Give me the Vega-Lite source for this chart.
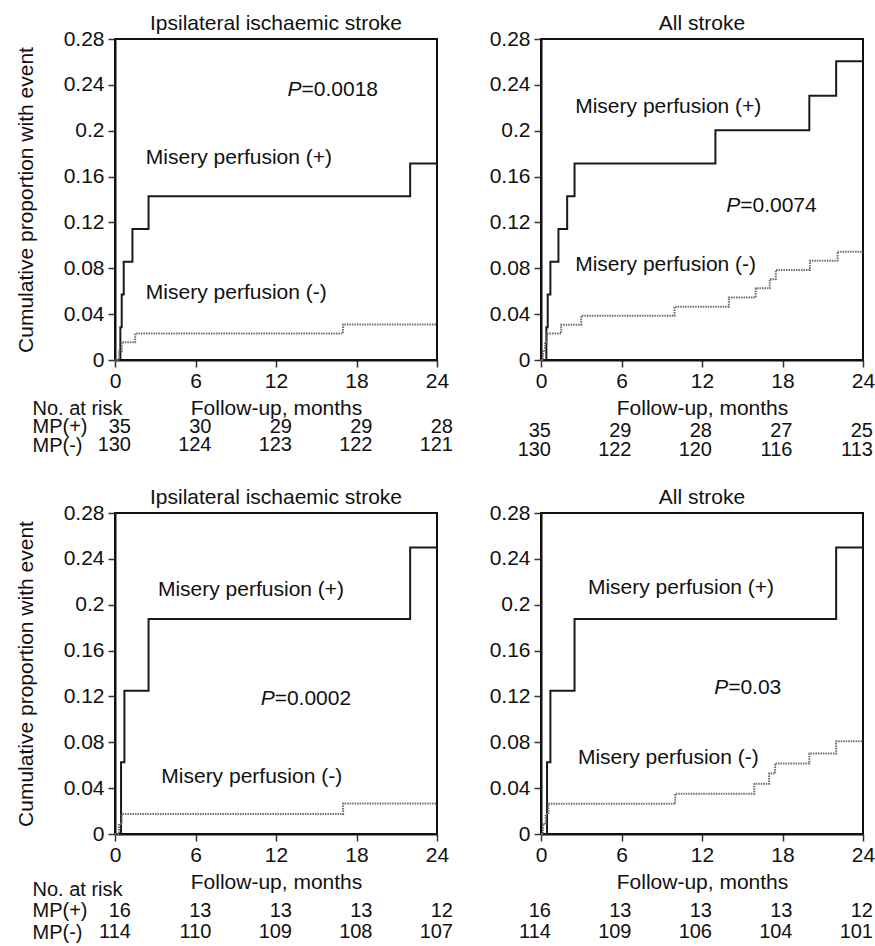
{
  "$schema": "https://vega.github.io/schema/vega-lite/v6.json",
  "background": "white",
  "padding": {"left": 14, "top": 12, "right": 0, "bottom": 0},
  "config": {
    "font": "Liberation Sans",
    "view": {"stroke": "#111", "strokeWidth": 2},
    "axis": {"grid": false, "labelFontSize": 21, "titleFontSize": 21, "labelColor": "#111", "titleColor": "#111", "titleFontWeight": "normal", "domainColor": "#111", "domainWidth": 2, "tickColor": "#333", "tickWidth": 1.5, "tickSize": 7, "labelFont": "Liberation Sans", "titleFont": "Liberation Sans"},
    "title": {"fontSize": 21, "fontWeight": "normal", "color": "#111", "font": "Liberation Sans", "baseline": "alphabetic", "offset": -6},
    "text": {"fontSize": 21, "font": "Liberation Sans", "color": "#111"}
  },
  "datasets": {
    "curves": [
      {"panel": "A", "group": "MP(+)", "t": 0, "p": 0}, {"panel": "A", "group": "MP(+)", "t": 0.4, "p": 0.0286}, {"panel": "A", "group": "MP(+)", "t": 0.5, "p": 0.0571}, {"panel": "A", "group": "MP(+)", "t": 0.65, "p": 0.0857}, {"panel": "A", "group": "MP(+)", "t": 1.3, "p": 0.1143}, {"panel": "A", "group": "MP(+)", "t": 2.5, "p": 0.1429}, {"panel": "A", "group": "MP(+)", "t": 22, "p": 0.1714}, {"panel": "A", "group": "MP(+)", "t": 24, "p": 0.1714},
      {"panel": "A", "group": "MP(-)", "t": 0, "p": 0}, {"panel": "A", "group": "MP(-)", "t": 0.3, "p": 0.0077}, {"panel": "A", "group": "MP(-)", "t": 0.5, "p": 0.0154}, {"panel": "A", "group": "MP(-)", "t": 1.5, "p": 0.0232}, {"panel": "A", "group": "MP(-)", "t": 17, "p": 0.031}, {"panel": "A", "group": "MP(-)", "t": 24, "p": 0.031},
      {"panel": "B", "group": "MP(+)", "t": 0, "p": 0}, {"panel": "B", "group": "MP(+)", "t": 0.4, "p": 0.0286}, {"panel": "B", "group": "MP(+)", "t": 0.5, "p": 0.0571}, {"panel": "B", "group": "MP(+)", "t": 0.7, "p": 0.0857}, {"panel": "B", "group": "MP(+)", "t": 1.3, "p": 0.1143}, {"panel": "B", "group": "MP(+)", "t": 1.95, "p": 0.1429}, {"panel": "B", "group": "MP(+)", "t": 2.5, "p": 0.1714}, {"panel": "B", "group": "MP(+)", "t": 13, "p": 0.2005}, {"panel": "B", "group": "MP(+)", "t": 20, "p": 0.2305}, {"panel": "B", "group": "MP(+)", "t": 22, "p": 0.2605}, {"panel": "B", "group": "MP(+)", "t": 24, "p": 0.2605},
      {"panel": "B", "group": "MP(-)", "t": 0, "p": 0}, {"panel": "B", "group": "MP(-)", "t": 0.15, "p": 0.0077}, {"panel": "B", "group": "MP(-)", "t": 0.3, "p": 0.0154}, {"panel": "B", "group": "MP(-)", "t": 0.45, "p": 0.0231}, {"panel": "B", "group": "MP(-)", "t": 1.5, "p": 0.0308}, {"panel": "B", "group": "MP(-)", "t": 3, "p": 0.0385}, {"panel": "B", "group": "MP(-)", "t": 9.95, "p": 0.0465}, {"panel": "B", "group": "MP(-)", "t": 14, "p": 0.0545}, {"panel": "B", "group": "MP(-)", "t": 16, "p": 0.0625}, {"panel": "B", "group": "MP(-)", "t": 17.05, "p": 0.0705}, {"panel": "B", "group": "MP(-)", "t": 17.5, "p": 0.0785}, {"panel": "B", "group": "MP(-)", "t": 20.05, "p": 0.0865}, {"panel": "B", "group": "MP(-)", "t": 22.1, "p": 0.0945}, {"panel": "B", "group": "MP(-)", "t": 24, "p": 0.0945},
      {"panel": "C", "group": "MP(+)", "t": 0, "p": 0}, {"panel": "C", "group": "MP(+)", "t": 0.45, "p": 0.0625}, {"panel": "C", "group": "MP(+)", "t": 0.7, "p": 0.125}, {"panel": "C", "group": "MP(+)", "t": 2.5, "p": 0.1875}, {"panel": "C", "group": "MP(+)", "t": 22, "p": 0.25}, {"panel": "C", "group": "MP(+)", "t": 24, "p": 0.25},
      {"panel": "C", "group": "MP(-)", "t": 0, "p": 0}, {"panel": "C", "group": "MP(-)", "t": 0.3, "p": 0.0088}, {"panel": "C", "group": "MP(-)", "t": 0.5, "p": 0.0175}, {"panel": "C", "group": "MP(-)", "t": 17, "p": 0.0265}, {"panel": "C", "group": "MP(-)", "t": 24, "p": 0.0265},
      {"panel": "D", "group": "MP(+)", "t": 0, "p": 0}, {"panel": "D", "group": "MP(+)", "t": 0.45, "p": 0.0625}, {"panel": "D", "group": "MP(+)", "t": 0.7, "p": 0.125}, {"panel": "D", "group": "MP(+)", "t": 2.5, "p": 0.1875}, {"panel": "D", "group": "MP(+)", "t": 22, "p": 0.25}, {"panel": "D", "group": "MP(+)", "t": 24, "p": 0.25},
      {"panel": "D", "group": "MP(-)", "t": 0, "p": 0}, {"panel": "D", "group": "MP(-)", "t": 0.15, "p": 0.0088}, {"panel": "D", "group": "MP(-)", "t": 0.35, "p": 0.0175}, {"panel": "D", "group": "MP(-)", "t": 0.55, "p": 0.0263}, {"panel": "D", "group": "MP(-)", "t": 10, "p": 0.0351}, {"panel": "D", "group": "MP(-)", "t": 15.9, "p": 0.0439}, {"panel": "D", "group": "MP(-)", "t": 17, "p": 0.0527}, {"panel": "D", "group": "MP(-)", "t": 17.45, "p": 0.0615}, {"panel": "D", "group": "MP(-)", "t": 20, "p": 0.0703}, {"panel": "D", "group": "MP(-)", "t": 22, "p": 0.081}, {"panel": "D", "group": "MP(-)", "t": 24, "p": 0.081}
    ],
    "notes": [
      {"panel": "A", "label": "Misery perfusion (+)", "t": 2.3, "p": 0.176}, {"panel": "A", "label": "Misery perfusion (-)", "t": 2.3, "p": 0.0587},
      {"panel": "B", "label": "Misery perfusion (+)", "t": 2.55, "p": 0.2205}, {"panel": "B", "label": "Misery perfusion (-)", "t": 2.55, "p": 0.083},
      {"panel": "C", "label": "Misery perfusion (+)", "t": 3.2, "p": 0.2124}, {"panel": "C", "label": "Misery perfusion (-)", "t": 3.45, "p": 0.0497},
      {"panel": "D", "label": "Misery perfusion (+)", "t": 3.5, "p": 0.215}, {"panel": "D", "label": "Misery perfusion (-)", "t": 2.75, "p": 0.0667}
    ],
    "pvals": [
      {"panel": "A", "value": "=0.0018", "t": 13.9, "p": 0.2356},
      {"panel": "B", "value": "=0.0074", "t": 14.85, "p": 0.1347},
      {"panel": "C", "value": "=0.0002", "t": 11.9, "p": 0.1174},
      {"panel": "D", "value": "=0.03", "t": 13.95, "p": 0.1275}
    ],
    "risk": [
      {"panel": "A", "row": "MP(+)", "t": 0, "n": 35}, {"panel": "A", "row": "MP(+)", "t": 6, "n": 30}, {"panel": "A", "row": "MP(+)", "t": 12, "n": 29}, {"panel": "A", "row": "MP(+)", "t": 18, "n": 29}, {"panel": "A", "row": "MP(+)", "t": 24, "n": 28},
      {"panel": "A", "row": "MP(-)", "t": 0, "n": 130}, {"panel": "A", "row": "MP(-)", "t": 6, "n": 124}, {"panel": "A", "row": "MP(-)", "t": 12, "n": 123}, {"panel": "A", "row": "MP(-)", "t": 18, "n": 122}, {"panel": "A", "row": "MP(-)", "t": 24, "n": 121},
      {"panel": "B", "row": "MP(+)", "t": 0, "n": 35}, {"panel": "B", "row": "MP(+)", "t": 6, "n": 29}, {"panel": "B", "row": "MP(+)", "t": 12, "n": 28}, {"panel": "B", "row": "MP(+)", "t": 18, "n": 27}, {"panel": "B", "row": "MP(+)", "t": 24, "n": 25},
      {"panel": "B", "row": "MP(-)", "t": 0, "n": 130}, {"panel": "B", "row": "MP(-)", "t": 6, "n": 122}, {"panel": "B", "row": "MP(-)", "t": 12, "n": 120}, {"panel": "B", "row": "MP(-)", "t": 18, "n": 116}, {"panel": "B", "row": "MP(-)", "t": 24, "n": 113},
      {"panel": "C", "row": "MP(+)", "t": 0, "n": 16}, {"panel": "C", "row": "MP(+)", "t": 6, "n": 13}, {"panel": "C", "row": "MP(+)", "t": 12, "n": 13}, {"panel": "C", "row": "MP(+)", "t": 18, "n": 13}, {"panel": "C", "row": "MP(+)", "t": 24, "n": 12},
      {"panel": "C", "row": "MP(-)", "t": 0, "n": 114}, {"panel": "C", "row": "MP(-)", "t": 6, "n": 110}, {"panel": "C", "row": "MP(-)", "t": 12, "n": 109}, {"panel": "C", "row": "MP(-)", "t": 18, "n": 108}, {"panel": "C", "row": "MP(-)", "t": 24, "n": 107},
      {"panel": "D", "row": "MP(+)", "t": 0, "n": 16}, {"panel": "D", "row": "MP(+)", "t": 6, "n": 13}, {"panel": "D", "row": "MP(+)", "t": 12, "n": 13}, {"panel": "D", "row": "MP(+)", "t": 18, "n": 13}, {"panel": "D", "row": "MP(+)", "t": 24, "n": 12},
      {"panel": "D", "row": "MP(-)", "t": 0, "n": 114}, {"panel": "D", "row": "MP(-)", "t": 6, "n": 109}, {"panel": "D", "row": "MP(-)", "t": 12, "n": 106}, {"panel": "D", "row": "MP(-)", "t": 18, "n": 104}, {"panel": "D", "row": "MP(-)", "t": 24, "n": 101}
    ]
  },
  "columns": 2,
  "bounds": "flush",
  "spacing": {"row": 40, "column": 104},
  "concat": [
    {
      "width": 322, "height": 321,
      "title": {"text": "Ipsilateral ischaemic stroke"},
      "layer": [
        {"data": {"name": "curves"}, "transform": [{"filter": "datum.panel === 'A'"}],
         "mark": {"type": "line", "interpolate": "step-after", "strokeWidth": 2},
         "encoding": {
           "x": {"field": "t", "type": "quantitative", "scale": {"domain": [0, 24], "nice": false, "zero": false}, "axis": {"values": [0, 6, 12, 18, 24], "title": "Follow-up, months", "labelFlush": false, "labelOverlap": false, "labelPadding": 3, "titlePadding": 6}},
           "y": {"field": "p", "type": "quantitative", "scale": {"domain": [0, 0.28], "nice": false}, "axis": {"values": [0, 0.04, 0.08, 0.12, 0.16, 0.2, 0.24, 0.28], "format": ".2~f", "title": "Cumulative proportion with event", "titlePadding": 27, "labelPadding": 4, "labelOverlap": false}},
           "color": {"field": "group", "type": "nominal", "scale": {"domain": ["MP(+)", "MP(-)"], "range": ["#1a1a1a", "#6e6e6e"]}, "legend": null},
           "strokeDash": {"field": "group", "type": "nominal", "scale": {"domain": ["MP(+)", "MP(-)"], "range": [[1, 0], [1.5, 1]]}, "legend": null}
         }},
        {"data": {"name": "notes"}, "transform": [{"filter": "datum.panel === 'A'"}],
         "mark": {"type": "text", "align": "left", "baseline": "middle"},
         "encoding": {"x": {"field": "t", "type": "quantitative"}, "y": {"field": "p", "type": "quantitative"}, "text": {"field": "label"}}},
        {"data": {"name": "pvals"}, "transform": [{"filter": "datum.panel === 'A'"}],
         "mark": {"type": "text", "align": "right", "baseline": "middle", "fontStyle": "italic", "text": "P"},
         "encoding": {"x": {"field": "t", "type": "quantitative"}, "y": {"field": "p", "type": "quantitative"}}},
        {"data": {"name": "pvals"}, "transform": [{"filter": "datum.panel === 'A'"}],
         "mark": {"type": "text", "align": "left", "baseline": "middle"},
         "encoding": {"x": {"field": "t", "type": "quantitative"}, "y": {"field": "p", "type": "quantitative"}, "text": {"field": "value"}}}
      ]
    },
    {
      "width": 322, "height": 321,
      "title": {"text": "All stroke"},
      "layer": [
        {"data": {"name": "curves"}, "transform": [{"filter": "datum.panel === 'B'"}],
         "mark": {"type": "line", "interpolate": "step-after", "strokeWidth": 2},
         "encoding": {
           "x": {"field": "t", "type": "quantitative", "scale": {"domain": [0, 24], "nice": false, "zero": false}, "axis": {"values": [0, 6, 12, 18, 24], "title": "Follow-up, months", "labelFlush": false, "labelOverlap": false, "labelPadding": 3, "titlePadding": 6}},
           "y": {"field": "p", "type": "quantitative", "scale": {"domain": [0, 0.28], "nice": false}, "axis": {"values": [0, 0.04, 0.08, 0.12, 0.16, 0.2, 0.24, 0.28], "format": ".2~f", "title": null, "labelPadding": 4, "labelOverlap": false}},
           "color": {"field": "group", "type": "nominal", "scale": {"domain": ["MP(+)", "MP(-)"], "range": ["#1a1a1a", "#6e6e6e"]}, "legend": null},
           "strokeDash": {"field": "group", "type": "nominal", "scale": {"domain": ["MP(+)", "MP(-)"], "range": [[1, 0], [1.5, 1]]}, "legend": null}
         }},
        {"data": {"name": "notes"}, "transform": [{"filter": "datum.panel === 'B'"}],
         "mark": {"type": "text", "align": "left", "baseline": "middle"},
         "encoding": {"x": {"field": "t", "type": "quantitative"}, "y": {"field": "p", "type": "quantitative"}, "text": {"field": "label"}}},
        {"data": {"name": "pvals"}, "transform": [{"filter": "datum.panel === 'B'"}],
         "mark": {"type": "text", "align": "right", "baseline": "middle", "fontStyle": "italic", "text": "P"},
         "encoding": {"x": {"field": "t", "type": "quantitative"}, "y": {"field": "p", "type": "quantitative"}}},
        {"data": {"name": "pvals"}, "transform": [{"filter": "datum.panel === 'B'"}],
         "mark": {"type": "text", "align": "left", "baseline": "middle"},
         "encoding": {"x": {"field": "t", "type": "quantitative"}, "y": {"field": "p", "type": "quantitative"}, "text": {"field": "value"}}}
      ]
    },
    {
      "width": 322, "height": 73,
      "view": {"stroke": null},
      "data": {"name": "risk"}, "transform": [{"filter": "datum.panel === 'A'"}],
      "mark": {"type": "text", "align": "right", "dx": 16, "baseline": "middle", "fontSize": 20},
      "encoding": {
        "x": {"field": "t", "type": "quantitative", "scale": {"domain": [0, 24], "nice": false}, "axis": null},
        "y": {"field": "row", "type": "nominal", "scale": {"type": "point", "padding": 0, "domain": ["No. at risk", "MP(+)", "MP(-)"], "range": [8, 45]}, "axis": {"title": null, "domain": false, "ticks": false, "labelAlign": "left", "labelPadding": 83, "labelFontSize": 20}},
        "text": {"field": "n", "type": "quantitative"}
      }
    },
    {
      "width": 322, "height": 73,
      "view": {"stroke": null},
      "data": {"name": "risk"}, "transform": [{"filter": "datum.panel === 'B'"}],
      "mark": {"type": "text", "align": "right", "dx": 10, "baseline": "middle", "fontSize": 20},
      "encoding": {
        "x": {"field": "t", "type": "quantitative", "scale": {"domain": [0, 24], "nice": false}, "axis": null},
        "y": {"field": "row", "type": "nominal", "scale": {"type": "point", "padding": 0, "domain": ["No. at risk", "MP(+)", "MP(-)"], "range": [12, 50]}, "axis": null},
        "text": {"field": "n", "type": "quantitative"}
      }
    },
    {
      "width": 322, "height": 321,
      "title": {"text": "Ipsilateral ischaemic stroke"},
      "layer": [
        {"data": {"name": "curves"}, "transform": [{"filter": "datum.panel === 'C'"}],
         "mark": {"type": "line", "interpolate": "step-after", "strokeWidth": 2},
         "encoding": {
           "x": {"field": "t", "type": "quantitative", "scale": {"domain": [0, 24], "nice": false, "zero": false}, "axis": {"values": [0, 6, 12, 18, 24], "title": "Follow-up, months", "labelFlush": false, "labelOverlap": false, "labelPadding": 3, "titlePadding": 6}},
           "y": {"field": "p", "type": "quantitative", "scale": {"domain": [0, 0.28], "nice": false}, "axis": {"values": [0, 0.04, 0.08, 0.12, 0.16, 0.2, 0.24, 0.28], "format": ".2~f", "title": "Cumulative proportion with event", "titlePadding": 27, "labelPadding": 4, "labelOverlap": false}},
           "color": {"field": "group", "type": "nominal", "scale": {"domain": ["MP(+)", "MP(-)"], "range": ["#1a1a1a", "#6e6e6e"]}, "legend": null},
           "strokeDash": {"field": "group", "type": "nominal", "scale": {"domain": ["MP(+)", "MP(-)"], "range": [[1, 0], [1.5, 1]]}, "legend": null}
         }},
        {"data": {"name": "notes"}, "transform": [{"filter": "datum.panel === 'C'"}],
         "mark": {"type": "text", "align": "left", "baseline": "middle"},
         "encoding": {"x": {"field": "t", "type": "quantitative"}, "y": {"field": "p", "type": "quantitative"}, "text": {"field": "label"}}},
        {"data": {"name": "pvals"}, "transform": [{"filter": "datum.panel === 'C'"}],
         "mark": {"type": "text", "align": "right", "baseline": "middle", "fontStyle": "italic", "text": "P"},
         "encoding": {"x": {"field": "t", "type": "quantitative"}, "y": {"field": "p", "type": "quantitative"}}},
        {"data": {"name": "pvals"}, "transform": [{"filter": "datum.panel === 'C'"}],
         "mark": {"type": "text", "align": "left", "baseline": "middle"},
         "encoding": {"x": {"field": "t", "type": "quantitative"}, "y": {"field": "p", "type": "quantitative"}, "text": {"field": "value"}}}
      ]
    },
    {
      "width": 322, "height": 321,
      "title": {"text": "All stroke"},
      "layer": [
        {"data": {"name": "curves"}, "transform": [{"filter": "datum.panel === 'D'"}],
         "mark": {"type": "line", "interpolate": "step-after", "strokeWidth": 2},
         "encoding": {
           "x": {"field": "t", "type": "quantitative", "scale": {"domain": [0, 24], "nice": false, "zero": false}, "axis": {"values": [0, 6, 12, 18, 24], "title": "Follow-up, months", "labelFlush": false, "labelOverlap": false, "labelPadding": 3, "titlePadding": 6}},
           "y": {"field": "p", "type": "quantitative", "scale": {"domain": [0, 0.28], "nice": false}, "axis": {"values": [0, 0.04, 0.08, 0.12, 0.16, 0.2, 0.24, 0.28], "format": ".2~f", "title": null, "labelPadding": 4, "labelOverlap": false}},
           "color": {"field": "group", "type": "nominal", "scale": {"domain": ["MP(+)", "MP(-)"], "range": ["#1a1a1a", "#6e6e6e"]}, "legend": null},
           "strokeDash": {"field": "group", "type": "nominal", "scale": {"domain": ["MP(+)", "MP(-)"], "range": [[1, 0], [1.5, 1]]}, "legend": null}
         }},
        {"data": {"name": "notes"}, "transform": [{"filter": "datum.panel === 'D'"}],
         "mark": {"type": "text", "align": "left", "baseline": "middle"},
         "encoding": {"x": {"field": "t", "type": "quantitative"}, "y": {"field": "p", "type": "quantitative"}, "text": {"field": "label"}}},
        {"data": {"name": "pvals"}, "transform": [{"filter": "datum.panel === 'D'"}],
         "mark": {"type": "text", "align": "right", "baseline": "middle", "fontStyle": "italic", "text": "P"},
         "encoding": {"x": {"field": "t", "type": "quantitative"}, "y": {"field": "p", "type": "quantitative"}}},
        {"data": {"name": "pvals"}, "transform": [{"filter": "datum.panel === 'D'"}],
         "mark": {"type": "text", "align": "left", "baseline": "middle"},
         "encoding": {"x": {"field": "t", "type": "quantitative"}, "y": {"field": "p", "type": "quantitative"}, "text": {"field": "value"}}}
      ]
    },
    {
      "width": 322, "height": 73,
      "view": {"stroke": null},
      "data": {"name": "risk"}, "transform": [{"filter": "datum.panel === 'C'"}],
      "mark": {"type": "text", "align": "right", "dx": 16, "baseline": "middle", "fontSize": 20},
      "encoding": {
        "x": {"field": "t", "type": "quantitative", "scale": {"domain": [0, 24], "nice": false}, "axis": null},
        "y": {"field": "row", "type": "nominal", "scale": {"type": "point", "padding": 0, "domain": ["No. at risk", "MP(+)", "MP(-)"], "range": [15, 58]}, "axis": {"title": null, "domain": false, "ticks": false, "labelAlign": "left", "labelPadding": 83, "labelFontSize": 20}},
        "text": {"field": "n", "type": "quantitative"}
      }
    },
    {
      "width": 322, "height": 73,
      "view": {"stroke": null},
      "data": {"name": "risk"}, "transform": [{"filter": "datum.panel === 'D'"}],
      "mark": {"type": "text", "align": "right", "dx": 10, "baseline": "middle", "fontSize": 20},
      "encoding": {
        "x": {"field": "t", "type": "quantitative", "scale": {"domain": [0, 24], "nice": false}, "axis": null},
        "y": {"field": "row", "type": "nominal", "scale": {"type": "point", "padding": 0, "domain": ["No. at risk", "MP(+)", "MP(-)"], "range": [15, 58]}, "axis": null},
        "text": {"field": "n", "type": "quantitative"}
      }
    }
  ]
}
